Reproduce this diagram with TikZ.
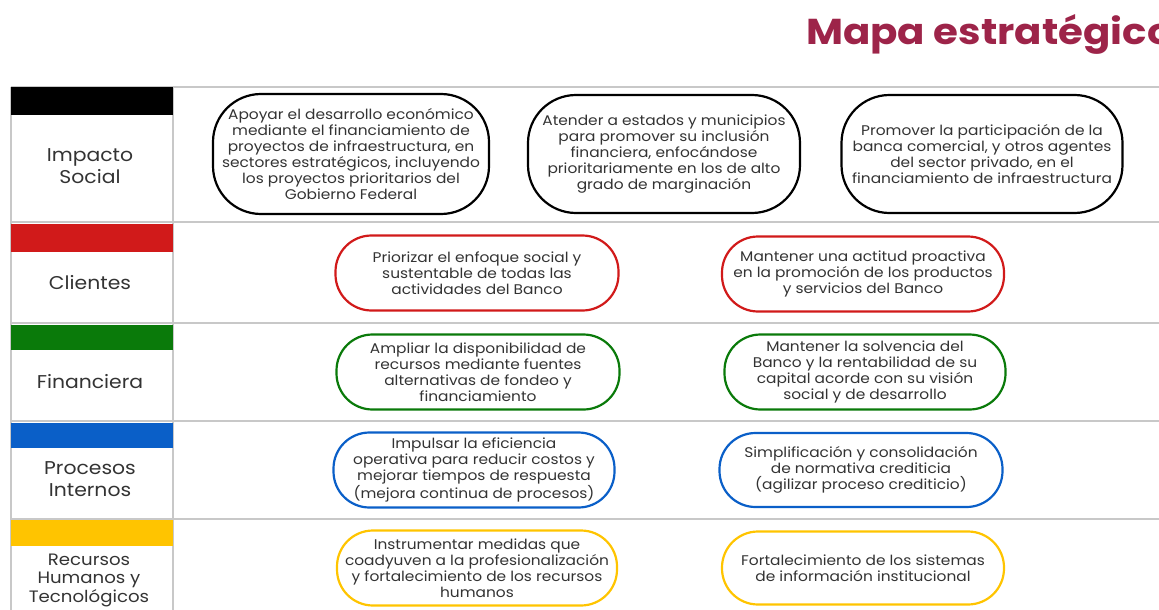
\documentclass[tikz,border=0pt]{standalone}
\usepackage{fontspec}
\setmainfont{Poppins}
\newfontfamily\boxfont[FakeStretch=1.1]{Poppins}
\newfontfamily\titlefont[FakeStretch=1.12]{Poppins}
\definecolor{maroon}{HTML}{9D2449}
\definecolor{txt}{HTML}{333333}
\definecolor{grid}{HTML}{C8C8C8}
\definecolor{cred}{HTML}{D11A1A}
\definecolor{cgreen}{HTML}{0A7A0A}
\definecolor{cblue}{HTML}{0A5FC8}
\definecolor{cyellow}{HTML}{FFC400}
\begin{document}
\begin{tikzpicture}[x=1pt,y=-1pt,
  goal/.style={draw, line width=2.2pt, rounded corners=36pt, align=center, text=txt,
    font=\boxfont\fontsize{14}{16}\selectfont, inner sep=0pt},
  bigoal/.style={goal, rounded corners=48pt},
  lab/.style={align=center, text=txt, font=\boxfont\fontsize{18.5}{22}\selectfont},
  sep/.style={draw=grid, line width=1.2pt}]
\useasboundingbox (0,0) rectangle (1159,610);
\clip (0,0) rectangle (1159,610);
% title
\node[anchor=base west, text=maroon, font=\titlefont\fontsize{36}{40}\selectfont\bfseries, inner sep=0pt] (title) at (806,45) {Mapa estratégico};
% grid lines
\draw[sep] (11,87) -- (1159,87);
\foreach \yy in {222,323,421,519} \draw[sep] (173,\yy) -- (1159,\yy);
\draw[sep] (11,87) -- (11,610);
\draw[sep] (173,87) -- (173,610);
\foreach \yy in {222,323,421,519} \draw[sep] (11,\yy) -- (173,\yy);
% colour bars
\fill[black]   (11,87) rectangle (173,115);
\fill[cred]    (11,224) rectangle (173,252);
\fill[cgreen]  (11,325) rectangle (173,350);
\fill[cblue]   (11,423) rectangle (173,448);
\fill[cyellow] (11,520) rectangle (173,546);
% labels
\node[lab] (l1) at (90,166) {Impacto\\Social};
\node[lab] (l2) at (90,283) {Clientes};
\node[lab] (l3) at (90,382) {Financiera};
\node[lab] (l4) at (90,479) {Procesos\\Internos};
\node[lab, font=\boxfont\fontsize{16.5}{18.5}\selectfont] (l5) at (89,580) {Recursos\\Humanos y\\Tecnológicos};
% row 1
\node[bigoal, minimum width=276pt, minimum height=120pt] (a1) at (351,154) {Apoyar el desarrollo económico\\mediante el financiamiento de\\proyectos de infraestructura, en\\sectores estratégicos, incluyendo\\los proyectos prioritarios del\\Gobierno Federal};
\node[bigoal, minimum width=272pt, minimum height=118pt] (a2) at (664,154) {Atender a estados y municipios\\para promover su inclusión\\financiera, enfocándose\\prioritariamente en los de alto\\grado de marginación};
\node[bigoal, minimum width=281pt, minimum height=118pt] (a3) at (982,154) {Promover la participación de la\\banca comercial, y otros agentes\\del sector privado, en el\\financiamiento de infraestructura};
% row 2
\node[goal, draw=cred, minimum width=283pt, minimum height=75pt] (c1) at (477,273) {Priorizar el enfoque social y\\sustentable de todas las\\actividades del Banco};
\node[goal, draw=cred, minimum width=282pt, minimum height=75pt] (c2) at (863,274) {Mantener una actitud proactiva\\en la promoción de los productos\\y servicios del Banco};
% row 3
\node[goal, draw=cgreen, minimum width=283pt, minimum height=75pt] (f1) at (478,372) {Ampliar la disponibilidad de\\recursos mediante fuentes\\alternativas de fondeo y\\financiamiento};
\node[goal, draw=cgreen, minimum width=281pt, minimum height=75pt] (f2) at (865,372) {Mantener la solvencia del\\Banco y la rentabilidad de su\\capital acorde con su visión\\social y de desarrollo};
% row 4
\node[goal, draw=cblue, minimum width=281pt, minimum height=75pt] (p1) at (474,470) {Impulsar la eficiencia\\operativa para reducir costos y\\mejorar tiempos de respuesta\\(mejora continua de procesos)};
\node[goal, draw=cblue, minimum width=283pt, minimum height=74pt] (p2) at (861,470) {Simplificación y consolidación\\de normativa crediticia\\(agilizar proceso crediticio)};
% row 5
\node[goal, draw=cyellow, minimum width=280pt, minimum height=75pt] (h1) at (477,568) {Instrumentar medidas que\\coadyuven a la profesionalización\\y fortalecimiento de los recursos\\humanos};
\node[goal, draw=cyellow, minimum width=282pt, minimum height=73pt] (h2) at (863,568) {Fortalecimiento de los sistemas\\de información institucional};
\end{tikzpicture}
\end{document}
